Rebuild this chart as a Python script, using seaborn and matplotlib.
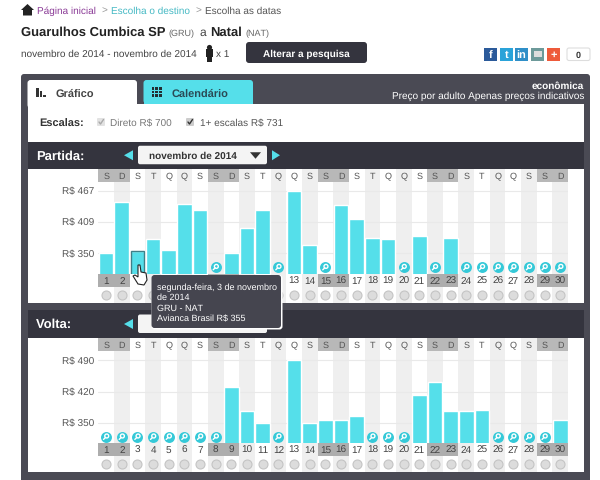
import numpy as np
import pandas as pd
import matplotlib.pyplot as plt
import seaborn as sns
from matplotlib.patches import Rectangle, FancyBboxPatch, Polygon

nan = np.nan

DAYS = list(range(1, 31))
WEEKDAYS = list("SDSTQQSSDSTQQSSDSTQQSSDSTQQSSD")
WEEKEND_DAYS = [1, 2, 8, 9, 15, 16, 22, 23, 29, 30]

# prices, nan = no flight (magnifier icon)
PARTIDA_PRICES = [350, 447, 355, 377, 357, 442, 432, nan, 350, 398,
                  432, nan, 467, 366, nan, 441, 414, 378, 376, nan,
                  383, nan, 378, nan, nan, nan, nan, nan, nan, nan]
VOLTA_PRICES = [nan, nan, nan, nan, nan, nan, nan, nan, 431, 376,
                350, nan, 490, 350, 355, 357, 366, nan, nan, nan,
                413, 441, 376, 376, 378, nan, nan, nan, nan, 356]
PARTIDA_TICKS = [350, 409, 467]
VOLTA_TICKS = [350, 420, 490]
# date labels the tooltip sits on top of
PARTIDA_HIDDEN = [3, 4, 5, 6, 7, 8, 9, 10, 11, 12]

TEAL = "#55dfea"
DARK = "#34343e"
FRAME = "#4a4a54"
STRIPE = "#efefef"
FONT = "Liberation Sans"

sns.set_theme(style="white")
plt.rcParams["font.family"] = [FONT, "DejaVu Sans"]
plt.rcParams["text.hinting"] = "no_hinting"
plt.rcParams["text.hinting_factor"] = 1

fig = plt.figure(figsize=(6, 4.8), dpi=100, facecolor="white")

# page chrome lives in one axes that uses pixel coordinates
bg = fig.add_axes([0, 0, 1, 1], zorder=0)
bg.set_xlim(0, 600)
bg.set_ylim(480, 0)
bg.axis("off")

fg = fig.add_axes([0, 0, 1, 1], zorder=3)
fg.set_xlim(0, 600)
fg.set_ylim(480, 0)
fg.axis("off")
fg.patch.set_alpha(0)

COL_LEFT = 98.3
COL_W = 15.66


def col_x(i):
    return COL_LEFT + COL_W * (i + 0.5)


def rect(ax, x0, y0, x1, y1, color, **kw):
    ax.add_patch(Rectangle((x0, y0), x1 - x0, y1 - y0, facecolor=color, edgecolor="none", **kw))


def rrect(ax, x0, y0, x1, y1, color, r=3, **kw):
    ax.add_patch(FancyBboxPatch((x0 + r, y0 + r), x1 - x0 - 2 * r, y1 - y0 - 2 * r,
                                boxstyle=f"round,pad={r},rounding_size={r}",
                                facecolor=color, edgecolor=kw.pop("edgecolor", "none"), **kw))


def text(ax, x, y, s, size=7.8, color="#333333", weight="normal", ha="left"):
    ax.text(x, y, s, fontsize=size, color=color, fontweight=weight, ha=ha, va="center_baseline")


# ---------- Header ----------
bg.add_patch(Polygon([[21, 10], [27.5, 4], [34, 10], [32, 10], [32, 15.5], [23, 15.5], [23, 10]],
                     facecolor="#222222", edgecolor="none"))
text(bg, 37, 10.5, "Página inicial", size=7.3, color="#8a3a96")
text(bg, 101, 10.5, ">", size=7.3, color="#999999")
text(bg, 111, 10.5, "Escolha o destino", size=7.3, color="#45b9c4")
text(bg, 195.5, 10.5, ">", size=7.3, color="#999999")
text(bg, 205, 10.5, "Escolha as datas", size=7.5, color="#555555")

text(bg, 21, 31.5, "Guarulhos Cumbica SP", size=9, color="#222222", weight="bold")
text(bg, 168, 32.5, "(GRU)", size=6.5, color="#666666")
text(bg, 199, 32, "a", size=8.5, color="#444444")
text(bg, 210, 31.5, "Natal", size=9, color="#222222", weight="bold")
text(bg, 245, 32.5, "(NAT)", size=6.5, color="#666666")

text(bg, 21, 53, "novembro de 2014 - novembro de 2014", size=7.2, color="#444444")
bg.scatter([209], [47], s=14, color="#222222", linewidths=0)
rect(bg, 205.5, 49, 212.5, 57, "#222222")
rect(bg, 206.5, 57, 211.5, 62, "#222222")
text(bg, 216, 53, "x 1", size=7.5, color="#444444")
rrect(bg, 246, 42, 367, 63, DARK)
text(bg, 306, 53, "Alterar a pesquisa", size=7.5, color="white", weight="bold", ha="center")

for x0, c, s in [(484, "#2b5a9a", "f"), (500, "#2aa3d9", "t"), (515, "#2f8fc8", "in"),
                 (531, "#6d9a9a", ""), (547, "#ee5a3a", "+")]:
    rect(bg, x0, 48, x0 + 13, 60.5, c)
    text(bg, x0 + 6.5, 54, s, size=8, color="white", weight="bold", ha="center")
rect(bg, 533.5, 51, 541.5, 57, "#dddddd")
rrect(bg, 567, 48, 590, 60.5, "white", r=2, edgecolor="#dddddd", linewidth=0.8)
text(bg, 578, 54.5, "0", size=6.5, color="#333333", weight="bold", ha="center")

# ---------- Panel frame ----------
rrect(bg, 21, 74, 590, 490, FRAME, r=3)
rect(bg, 27.5, 103.5, 584, 141.5, "white")
rrect(bg, 27.5, 80, 137, 108, "white", r=3)
rrect(bg, 143.5, 80, 253, 103.5, TEAL, r=3)
rect(bg, 143.5, 100, 253, 103.5, TEAL)

rect(bg, 36, 88, 38.5, 97, "#333333")
rect(bg, 39.5, 91, 42, 97, "#333333")
rect(bg, 43, 94.5, 46, 97, "#333333")
text(bg, 56, 92.5, "Gráfico", size=7.8, color="#444444", weight="bold")
for ix in range(3):
    for iy in range(3):
        rect(bg, 151.5 + ix * 3.7, 87 + iy * 3.7, 154.2 + ix * 3.7, 89.7 + iy * 3.7, "#222e33")
text(bg, 172, 92.5, "Calendário", size=7.7, color="#2a4a55", weight="bold")
text(bg, 584, 85, "econômica", size=7.5, color="white", weight="bold", ha="right")
text(bg, 584, 95.5, "Preço por adulto Apenas preços indicativos", size=7, color="white", ha="right")

text(bg, 39, 122.5, "Escalas:", size=7.8, color="#333333", weight="bold")
rrect(bg, 97, 118, 105, 126, "#e2e2e2", r=1)
bg.plot([99, 100.5, 103.5], [122, 124, 119.5], color="#aaaaaa", lw=1)
text(bg, 110.5, 123, "Direto R$ 700", size=7.1, color="#777777")
rrect(bg, 186, 118, 194, 126, "#cccccc", r=1)
bg.plot([188, 189.5, 192.5], [122, 124, 119.5], color="#333333", lw=1)
text(bg, 200, 123, "1+ escalas R$ 731", size=7.2, color="#555555")


# ---------- Charts ----------
def draw_chart(prices, ticks, name, band_top, head_top, base_y, panel_bottom, ymin, dollars_per_px,
               circle_y, hidden_days=(), show_month=True):
    head_bottom = head_top + 12.5
    date_bottom = base_y + 13
    rect(bg, 27.5, band_top, 584, head_top, DARK)
    rect(bg, 27.5, head_top, 584, panel_bottom, "white")
    text(bg, 36, (band_top + head_top) / 2 - 0.5, name, size=9, color="white", weight="bold")

    # month picker
    mid = (band_top + head_top) / 2
    bg.add_patch(Polygon([[124, mid], [133, mid - 5], [133, mid + 5]], facecolor=TEAL, edgecolor="none"))
    rrect(bg, 138, mid - 9.5, 267, mid + 9, "#f4f4f4", r=2)
    if show_month:
        bg.add_patch(Polygon([[280, mid], [272, mid - 5], [272, mid + 5]], facecolor=TEAL, edgecolor="none"))
        text(bg, 149, mid, "novembro de 2014", size=7.5, color="#333333", weight="bold")
        bg.add_patch(Polygon([[250, mid - 3], [261, mid - 3], [255.5, mid + 3.5]],
                             facecolor="#333333", edgecolor="none"))

    for i, day in enumerate(DAYS):
        x0 = COL_LEFT + COL_W * i
        if day % 2 == 0:
            rect(bg, x0, head_top, x0 + COL_W, panel_bottom, STRIPE)
        if day in WEEKEND_DAYS:
            rect(bg, x0, head_top, x0 + COL_W, head_bottom, "#b8b8b8")
            rect(bg, x0, base_y, x0 + COL_W, date_bottom, "#adadad")
        text(bg, col_x(i), (head_top + head_bottom) / 2, WEEKDAYS[i], size=6.5, color="#555555", ha="center")
        # availability dot
        bg.scatter([col_x(i)], [circle_y], s=42, color="#dcdcdc", edgecolors="#c4c4c4", linewidths=0.8)
        # magnifier where there is no price
        if np.isnan(prices[i]):
            cx, cy = col_x(i), base_y - 6.7
            bg.scatter([cx], [cy], s=62, color="#35c9d8", linewidths=0, zorder=3)
            bg.scatter([cx + 0.6], [cy - 0.6], s=8, facecolor="none", edgecolors="white", linewidths=1, zorder=4)
            bg.plot([cx - 0.6, cx - 2.6], [cy + 0.8, cy + 2.8], color="white", lw=1, zorder=4)

    # bars go through seaborn, axes placed so columns line up with the pixel grid
    ax = fig.add_axes([COL_LEFT / 600, 1 - base_y / 480, COL_W * 30 / 600, (base_y - head_bottom) / 480], zorder=1)
    ax.patch.set_alpha(0)
    df = pd.DataFrame({"day": DAYS, "price": prices})
    sns.barplot(data=df, x="day", y="price", order=DAYS, color=TEAL, saturation=1, width=0.94,
                errorbar=None, ax=ax, zorder=2)
    ax.set_xlim(-0.5, 29.5)
    ax.set_ylim(ymin, ymin + (base_y - head_bottom) * dollars_per_px)
    ax.set_yticks(ticks)
    ax.set_yticklabels([f"R$ {t}" for t in ticks])
    ax.set_xticks(range(30))
    ax.set_xticklabels(["" if d in hidden_days else str(d) for d in DAYS])
    ax.set_xlabel("")
    ax.set_ylabel("")
    ax.tick_params(axis="y", length=0, pad=3, labelsize=7.4, labelcolor="#555555")
    ax.tick_params(axis="x", length=0, pad=2, labelsize=7, labelcolor="#444444")
    ax.yaxis.grid(True, color="#e9e9e9", lw=0.8)
    ax.set_axisbelow(True)
    sns.despine(ax=ax, left=True, bottom=True)
    return ax


ax_partida = draw_chart(PARTIDA_PRICES, PARTIDA_TICKS, "Partida:", 141.5, 169, 273.7, 302.5, 312, 1.87, 295,
                        hidden_days=PARTIDA_HIDDEN)
rect(bg, 27.5, 302.5, 584, 310, FRAME)
ax_volta = draw_chart(VOLTA_PRICES, VOLTA_TICKS, "Volta:", 310, 338, 443.3, 472, 303.8, 2.244, 464,
                      show_month=False)

# hovered bar, 3 Nov
ax_partida.bar([2], [PARTIDA_PRICES[2]], width=0.86, fill=False, edgecolor="#3e7f88", linewidth=1, zorder=3)

# ---------- Tooltip and cursor ----------
rrect(fg, 151.5, 275, 282.5, 329.5, "white", r=3)
rrect(fg, 151.5, 275, 281, 328, "#45454f", r=3)
text(fg, 157, 287, "segunda-feira, 3 de novembro", size=6.3, color="white")
text(fg, 157, 297, "de 2014", size=6.3, color="white")
text(fg, 157, 307.5, "GRU - NAT", size=6.3, color="white")
text(fg, 157, 318, "Avianca Brasil R$ 355", size=6.3, color="white")
fg.add_patch(Polygon([[138, 265], [140, 265], [141, 272], [146, 273], [147, 280], [144, 285],
                      [138, 284], [133, 276], [135, 275], [138, 277]],
                     facecolor="white", edgecolor="#222222", linewidth=0.8))

fig.savefig("out.png", dpi=100)
plt.close(fig)
